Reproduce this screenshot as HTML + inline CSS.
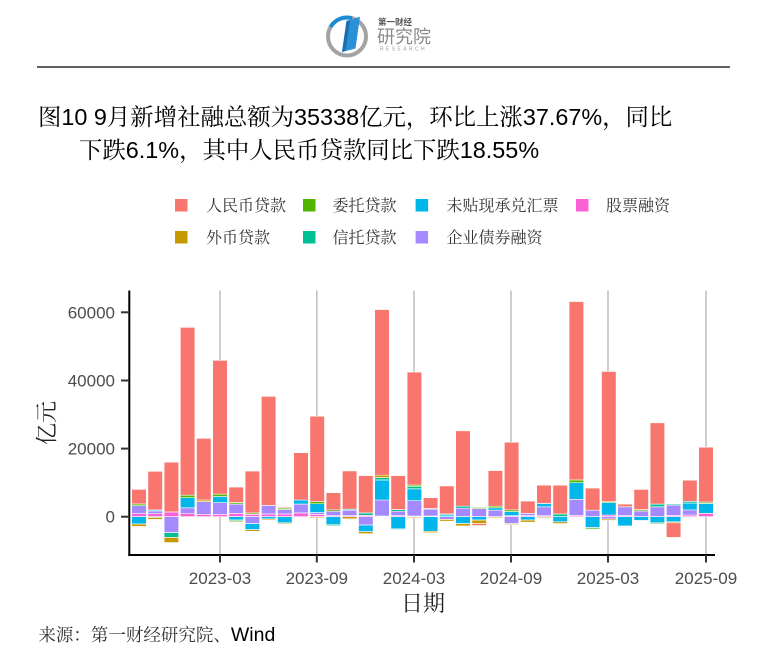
<!DOCTYPE html>
<html><head><meta charset="utf-8"><style>
html,body{margin:0;padding:0;background:#fff;}
body{width:773px;height:669px;overflow:hidden;position:relative;}
svg{position:absolute;left:0;top:0;}
.r{fill:#F8766D}.au{fill:#C49A00}.g{fill:#53B400}.t{fill:#00C094}.b{fill:#00B6EB}.p{fill:#A58AFF}.k{fill:#FB61D7}
.bars rect{stroke:#fff;stroke-width:0.6;vector-effect:non-scaling-stroke}
.cjk{font-family:"Liberation Sans","Noto Serif CJK SC",serif;}
.num{font-family:"Liberation Sans",sans-serif;}
</style></head><body>
<svg width="773" height="669" viewBox="0 0 773 669" xmlns="http://www.w3.org/2000/svg">
<!-- logo -->
<circle cx="347" cy="36.5" r="19" fill="none" stroke="#a3a3a3" stroke-width="4"/>
<path d="M 330.5 27 A 19 19 0 0 1 352 18.2" fill="none" stroke="#1d8ad6" stroke-width="4"/>
<polygon points="346.5,21 360,16.8 355.5,48.5 342,52" fill="#2a90d8"/>
<polygon points="346.5,21 350,20 345.5,51 342,52" fill="#1b6fb0"/>
<text x="378" y="25" font-family="Noto Sans CJK SC,sans-serif" font-size="8.5" font-weight="bold" fill="#555">第一财经</text>
<text x="377" y="43" font-family="Noto Sans CJK SC,sans-serif" font-size="18" fill="#8a8a8a">研究院</text>
<text x="380" y="50.5" font-family="Liberation Sans,sans-serif" font-size="5" letter-spacing="2.4" fill="#9a9a9a">RESEARCH</text>
<line x1="37" y1="67" x2="730" y2="67" stroke="#000" stroke-width="1.3"/>
<!-- title -->
<text x="38" y="125" class="cjk" font-size="23.4" fill="#000">图10 9月新增社融总额为35338亿元，环比上涨37.67%，同比</text>
<text x="79" y="158" class="cjk" font-size="23.4" fill="#000">下跌6.1%，其中人民币贷款同比下跌18.55%</text>
<!-- legend -->
<g font-family="Liberation Serif,Noto Serif CJK SC,serif" font-size="16" fill="#333">
<rect x="175" y="199" width="12.5" height="12.5" class="r"/><text x="206" y="211">人民币贷款</text>
<rect x="303" y="199" width="12.5" height="12.5" class="g"/><text x="332.5" y="211">委托贷款</text>
<rect x="415.6" y="199" width="12.5" height="12.5" class="b"/><text x="446.5" y="211">未贴现承兑汇票</text>
<rect x="576" y="199" width="12.5" height="12.5" class="k"/><text x="606" y="211">股票融资</text>
<rect x="175" y="231" width="12.5" height="12.5" class="au"/><text x="206" y="243">外币贷款</text>
<rect x="303" y="231" width="12.5" height="12.5" class="t"/><text x="332.5" y="243">信托贷款</text>
<rect x="415.6" y="231" width="12.5" height="12.5" class="p"/><text x="446.5" y="243">企业债券融资</text>
</g>
<!-- grid -->
<g stroke="#bdbdbd" stroke-width="1.5">
<line x1="220" y1="290.5" x2="220" y2="555"/>
<line x1="316.8" y1="290.5" x2="316.8" y2="555"/>
<line x1="414" y1="290.5" x2="414" y2="555"/>
<line x1="511" y1="290.5" x2="511" y2="555"/>
<line x1="608" y1="290.5" x2="608" y2="555"/>
<line x1="706" y1="290.5" x2="706" y2="555"/>
</g>
<!-- bars -->
<g class="bars" transform="translate(0,516.7) scale(1,-0.003407)">
<!-- 1 -->
<rect x="131.7" width="14.6" y="0" height="900" class="k"/><rect x="131.7" width="14.6" y="900" height="2350" class="p"/><rect x="131.7" width="14.6" y="3250" height="500" class="g"/><rect x="131.7" width="14.6" y="3750" height="4300" class="r"/><rect x="131.7" width="14.6" y="-2150" height="2150" class="b"/><rect x="131.7" width="14.6" y="-2850" height="700" class="au"/>
<!-- 2 -->
<rect x="147.9" width="14.6" y="0" height="900" class="k"/><rect x="147.9" width="14.6" y="900" height="800" class="p"/><rect x="147.9" width="14.6" y="1700" height="300" class="b"/><rect x="147.9" width="14.6" y="2000" height="11300" class="r"/><rect x="147.9" width="14.6" y="-300" height="300" class="g"/><rect x="147.9" width="14.6" y="-800" height="500" class="au"/>
<!-- 3 -->
<rect x="164.1" width="14.6" y="0" height="1400" class="k"/><rect x="164.1" width="14.6" y="1400" height="14600" class="r"/><rect x="164.1" width="14.6" y="-4700" height="4700" class="p"/><rect x="164.1" width="14.6" y="-6100" height="1400" class="t"/><rect x="164.1" width="14.6" y="-7600" height="1500" class="au"/>
<!-- 4 -->
<rect x="180.3" width="14.6" y="0" height="900" class="k"/><rect x="180.3" width="14.6" y="900" height="1700" class="p"/><rect x="180.3" width="14.6" y="2600" height="3000" class="b"/><rect x="180.3" width="14.6" y="5600" height="700" class="g"/><rect x="180.3" width="14.6" y="6300" height="49300" class="r"/>
<!-- 5 -->
<rect x="196.5" width="14.6" y="0" height="700" class="k"/><rect x="196.5" width="14.6" y="700" height="3700" class="p"/><rect x="196.5" width="14.6" y="4400" height="500" class="au"/><rect x="196.5" width="14.6" y="4900" height="18100" class="r"/>
<!-- 6 -->
<rect x="212.7" width="14.6" y="0" height="700" class="k"/><rect x="212.7" width="14.6" y="700" height="3400" class="p"/><rect x="212.7" width="14.6" y="4100" height="1800" class="b"/><rect x="212.7" width="14.6" y="5900" height="700" class="g"/><rect x="212.7" width="14.6" y="6600" height="39300" class="r"/>
<!-- 7 -->
<rect x="228.9" width="14.6" y="0" height="1000" class="k"/><rect x="228.9" width="14.6" y="1000" height="2700" class="p"/><rect x="228.9" width="14.6" y="3700" height="500" class="g"/><rect x="228.9" width="14.6" y="4200" height="4500" class="r"/><rect x="228.9" width="14.6" y="-1000" height="1000" class="b"/><rect x="228.9" width="14.6" y="-1300" height="300" class="t"/><rect x="228.9" width="14.6" y="-1600" height="300" class="au"/>
<!-- 8 -->
<rect x="245.1" width="14.6" y="0" height="700" class="k"/><rect x="245.1" width="14.6" y="700" height="400" class="g"/><rect x="245.1" width="14.6" y="1100" height="12300" class="r"/><rect x="245.1" width="14.6" y="-2000" height="2000" class="p"/><rect x="245.1" width="14.6" y="-3800" height="1800" class="b"/><rect x="245.1" width="14.6" y="-4300" height="500" class="au"/>
<!-- 9 -->
<rect x="261.3" width="14.6" y="0" height="800" class="k"/><rect x="261.3" width="14.6" y="800" height="2500" class="p"/><rect x="261.3" width="14.6" y="3300" height="32050" class="r"/><rect x="261.3" width="14.6" y="-600" height="600" class="b"/><rect x="261.3" width="14.6" y="-900" height="300" class="au"/>
<!-- 10 -->
<rect x="277.5" width="14.6" y="0" height="800" class="k"/><rect x="277.5" width="14.6" y="800" height="1300" class="p"/><rect x="277.5" width="14.6" y="2100" height="400" class="g"/><rect x="277.5" width="14.6" y="2500" height="300" class="r"/><rect x="277.5" width="14.6" y="-1800" height="1800" class="b"/><rect x="277.5" width="14.6" y="-2100" height="300" class="au"/>
<!-- 11 -->
<rect x="293.7" width="14.6" y="0" height="1100" class="k"/><rect x="293.7" width="14.6" y="1100" height="2600" class="p"/><rect x="293.7" width="14.6" y="3700" height="1200" class="b"/><rect x="293.7" width="14.6" y="4900" height="13900" class="r"/>
<!-- 12 -->
<rect x="309.9" width="14.6" y="0" height="700" class="k"/><rect x="309.9" width="14.6" y="700" height="500" class="p"/><rect x="309.9" width="14.6" y="1200" height="2600" class="b"/><rect x="309.9" width="14.6" y="3800" height="600" class="g"/><rect x="309.9" width="14.6" y="4400" height="25100" class="r"/><rect x="309.9" width="14.6" y="-300" height="300" class="au"/>
<!-- 13 -->
<rect x="326.1" width="14.6" y="0" height="300" class="k"/><rect x="326.1" width="14.6" y="300" height="1300" class="p"/><rect x="326.1" width="14.6" y="1600" height="400" class="g"/><rect x="326.1" width="14.6" y="2000" height="5060" class="r"/><rect x="326.1" width="14.6" y="-2250" height="2250" class="b"/><rect x="326.1" width="14.6" y="-2650" height="400" class="t"/>
<!-- 14 -->
<rect x="342.3" width="14.6" y="0" height="300" class="k"/><rect x="342.3" width="14.6" y="300" height="1600" class="p"/><rect x="342.3" width="14.6" y="1900" height="300" class="t"/><rect x="342.3" width="14.6" y="2200" height="11240" class="r"/><rect x="342.3" width="14.6" y="-600" height="600" class="au"/>
<!-- 15 -->
<rect x="358.5" width="14.6" y="0" height="400" class="k"/><rect x="358.5" width="14.6" y="400" height="700" class="t"/><rect x="358.5" width="14.6" y="1100" height="10960" class="r"/><rect x="358.5" width="14.6" y="-2450" height="2450" class="p"/><rect x="358.5" width="14.6" y="-4400" height="1950" class="b"/><rect x="358.5" width="14.6" y="-5000" height="600" class="au"/>
<!-- 16 -->
<rect x="374.7" width="14.6" y="0" height="200" class="k"/><rect x="374.7" width="14.6" y="200" height="4700" class="p"/><rect x="374.7" width="14.6" y="4900" height="5900" class="b"/><rect x="374.7" width="14.6" y="10800" height="700" class="t"/><rect x="374.7" width="14.6" y="11500" height="700" class="au"/><rect x="374.7" width="14.6" y="12200" height="48600" class="r"/>
<!-- 17 -->
<rect x="390.9" width="14.6" y="0" height="300" class="k"/><rect x="390.9" width="14.6" y="300" height="1300" class="p"/><rect x="390.9" width="14.6" y="1600" height="500" class="t"/><rect x="390.9" width="14.6" y="2100" height="9960" class="r"/><rect x="390.9" width="14.6" y="-3600" height="3600" class="b"/><rect x="390.9" width="14.6" y="-3800" height="200" class="g"/>
<!-- 18 -->
<rect x="407.1" width="14.6" y="0" height="200" class="k"/><rect x="407.1" width="14.6" y="200" height="4500" class="p"/><rect x="407.1" width="14.6" y="4700" height="3500" class="b"/><rect x="407.1" width="14.6" y="8200" height="600" class="t"/><rect x="407.1" width="14.6" y="8800" height="500" class="g"/><rect x="407.1" width="14.6" y="9300" height="33160" class="r"/><rect x="407.1" width="14.6" y="-300" height="300" class="au"/>
<!-- 19 -->
<rect x="423.3" width="14.6" y="0" height="200" class="k"/><rect x="423.3" width="14.6" y="200" height="2000" class="p"/><rect x="423.3" width="14.6" y="2200" height="200" class="t"/><rect x="423.3" width="14.6" y="2400" height="3190" class="r"/><rect x="423.3" width="14.6" y="-4300" height="4300" class="b"/><rect x="423.3" width="14.6" y="-4700" height="400" class="au"/>
<!-- 20 -->
<rect x="439.5" width="14.6" y="0" height="500" class="b"/><rect x="439.5" width="14.6" y="500" height="300" class="t"/><rect x="439.5" width="14.6" y="800" height="8230" class="r"/><rect x="439.5" width="14.6" y="-800" height="800" class="p"/><rect x="439.5" width="14.6" y="-1300" height="500" class="au"/>
<!-- 21 -->
<rect x="455.7" width="14.6" y="0" height="2500" class="p"/><rect x="455.7" width="14.6" y="2500" height="600" class="t"/><rect x="455.7" width="14.6" y="3100" height="22100" class="r"/><rect x="455.7" width="14.6" y="-2000" height="2000" class="b"/><rect x="455.7" width="14.6" y="-2700" height="700" class="au"/>
<!-- 22 -->
<rect x="471.9" width="14.6" y="0" height="2400" class="p"/><rect x="471.9" width="14.6" y="2400" height="300" class="g"/><rect x="471.9" width="14.6" y="-1000" height="1000" class="b"/><rect x="471.9" width="14.6" y="-2000" height="1000" class="au"/><rect x="471.9" width="14.6" y="-2600" height="600" class="r"/>
<!-- 23 -->
<rect x="488.1" width="14.6" y="0" height="1900" class="p"/><rect x="488.1" width="14.6" y="1900" height="700" class="b"/><rect x="488.1" width="14.6" y="2600" height="500" class="g"/><rect x="488.1" width="14.6" y="3100" height="10440" class="r"/><rect x="488.1" width="14.6" y="-300" height="300" class="au"/>
<!-- 24 -->
<rect x="504.3" width="14.6" y="0" height="300" class="k"/><rect x="504.3" width="14.6" y="300" height="1200" class="b"/><rect x="504.3" width="14.6" y="1500" height="500" class="g"/><rect x="504.3" width="14.6" y="2000" height="19870" class="r"/><rect x="504.3" width="14.6" y="-2000" height="2000" class="p"/><rect x="504.3" width="14.6" y="-2300" height="300" class="au"/>
<!-- 25 -->
<rect x="520.5" width="14.6" y="0" height="300" class="k"/><rect x="520.5" width="14.6" y="300" height="700" class="p"/><rect x="520.5" width="14.6" y="1000" height="3600" class="r"/><rect x="520.5" width="14.6" y="-1000" height="1000" class="b"/><rect x="520.5" width="14.6" y="-1600" height="600" class="au"/>
<!-- 26 -->
<rect x="536.7" width="14.6" y="0" height="300" class="k"/><rect x="536.7" width="14.6" y="300" height="2600" class="p"/><rect x="536.7" width="14.6" y="2900" height="1000" class="b"/><rect x="536.7" width="14.6" y="3900" height="5330" class="r"/><rect x="536.7" width="14.6" y="-300" height="300" class="au"/>
<!-- 27 -->
<rect x="552.9" width="14.6" y="0" height="800" class="t"/><rect x="552.9" width="14.6" y="800" height="8430" class="r"/><rect x="552.9" width="14.6" y="-1500" height="1500" class="b"/><rect x="552.9" width="14.6" y="-2000" height="500" class="au"/>
<!-- 28 -->
<rect x="569.1" width="14.6" y="0" height="400" class="k"/><rect x="569.1" width="14.6" y="400" height="4700" class="p"/><rect x="569.1" width="14.6" y="5100" height="4900" class="b"/><rect x="569.1" width="14.6" y="10000" height="800" class="g"/><rect x="569.1" width="14.6" y="10800" height="52350" class="r"/>
<!-- 29 -->
<rect x="585.3" width="14.6" y="0" height="1900" class="p"/><rect x="585.3" width="14.6" y="1900" height="6500" class="r"/><rect x="585.3" width="14.6" y="-3200" height="3200" class="b"/><rect x="585.3" width="14.6" y="-3600" height="400" class="g"/>
<!-- 30 -->
<rect x="601.5" width="14.6" y="0" height="500" class="k"/><rect x="601.5" width="14.6" y="500" height="3600" class="b"/><rect x="601.5" width="14.6" y="4100" height="300" class="g"/><rect x="601.5" width="14.6" y="4400" height="38250" class="r"/><rect x="601.5" width="14.6" y="-700" height="700" class="p"/><rect x="601.5" width="14.6" y="-1100" height="400" class="au"/>
<!-- 31 -->
<rect x="617.7" width="14.6" y="0" height="300" class="k"/><rect x="617.7" width="14.6" y="300" height="2600" class="p"/><rect x="617.7" width="14.6" y="2900" height="800" class="r"/><rect x="617.7" width="14.6" y="-2700" height="2700" class="b"/>
<!-- 32 -->
<rect x="633.9" width="14.6" y="0" height="1700" class="p"/><rect x="633.9" width="14.6" y="1700" height="400" class="g"/><rect x="633.9" width="14.6" y="2100" height="5900" class="r"/><rect x="633.9" width="14.6" y="-1100" height="1100" class="b"/>
<!-- 33 -->
<rect x="650.1" width="14.6" y="0" height="2900" class="p"/><rect x="650.1" width="14.6" y="2900" height="800" class="t"/><rect x="650.1" width="14.6" y="3700" height="23860" class="r"/><rect x="650.1" width="14.6" y="-1800" height="1800" class="b"/><rect x="650.1" width="14.6" y="-2100" height="300" class="g"/>
<!-- 34 -->
<rect x="666.3" width="14.6" y="0" height="400" class="k"/><rect x="666.3" width="14.6" y="400" height="3000" class="p"/><rect x="666.3" width="14.6" y="3400" height="300" class="t"/><rect x="666.3" width="14.6" y="-1500" height="1500" class="b"/><rect x="666.3" width="14.6" y="-1800" height="300" class="au"/><rect x="666.3" width="14.6" y="-6100" height="4300" class="r"/>
<!-- 35 -->
<rect x="682.5" width="14.6" y="0" height="500" class="k"/><rect x="682.5" width="14.6" y="500" height="1500" class="p"/><rect x="682.5" width="14.6" y="2000" height="2000" class="b"/><rect x="682.5" width="14.6" y="4000" height="500" class="t"/><rect x="682.5" width="14.6" y="4500" height="6200" class="r"/><rect x="682.5" width="14.6" y="-200" height="200" class="au"/>
<!-- 36 -->
<rect x="698.7" width="14.6" y="0" height="1000" class="k"/><rect x="698.7" width="14.6" y="1000" height="2900" class="b"/><rect x="698.7" width="14.6" y="3900" height="400" class="g"/><rect x="698.7" width="14.6" y="4300" height="16100" class="r"/>
</g>
<!-- axes -->
<line x1="129.3" y1="290.5" x2="129.3" y2="556" stroke="#000" stroke-width="2"/>
<line x1="128.3" y1="555" x2="715" y2="555" stroke="#000" stroke-width="2"/>
<g stroke="#333" stroke-width="2">
<line x1="121" y1="312.3" x2="129" y2="312.3"/>
<line x1="121" y1="380.5" x2="129" y2="380.5"/>
<line x1="121" y1="448.6" x2="129" y2="448.6"/>
<line x1="121" y1="516.7" x2="129" y2="516.7"/>
<line x1="220" y1="555" x2="220" y2="562.5"/>
<line x1="316.8" y1="555" x2="316.8" y2="562.5"/>
<line x1="414" y1="555" x2="414" y2="562.5"/>
<line x1="511" y1="555" x2="511" y2="562.5"/>
<line x1="608" y1="555" x2="608" y2="562.5"/>
<line x1="706" y1="555" x2="706" y2="562.5"/>
</g>
<g class="num" font-size="17" fill="#4d4d4d" text-anchor="end">
<text x="115" y="318.3">60000</text>
<text x="115" y="386.5">40000</text>
<text x="115" y="454.6">20000</text>
<text x="115" y="522.7">0</text>
</g>
<g class="num" font-size="17" fill="#4d4d4d" text-anchor="middle">
<text x="220" y="584">2023-03</text>
<text x="316.8" y="584">2023-09</text>
<text x="414" y="584">2024-03</text>
<text x="511" y="584">2024-09</text>
<text x="608" y="584">2025-03</text>
<text x="706" y="584">2025-09</text>
</g>
<text x="423" y="611" text-anchor="middle" class="cjk" font-size="22" fill="#222">日期</text>
<text transform="translate(54.5,423) rotate(-90)" text-anchor="middle" class="cjk" font-size="22" fill="#222">亿元</text>
<!-- footer -->
<text x="38.4" y="641" class="cjk" font-size="17.5" fill="#333">来源：第一财经研究院、<tspan font-family="Liberation Sans,sans-serif" font-size="19.5" fill="#000">Wind</tspan></text>
</svg>
</body></html>
